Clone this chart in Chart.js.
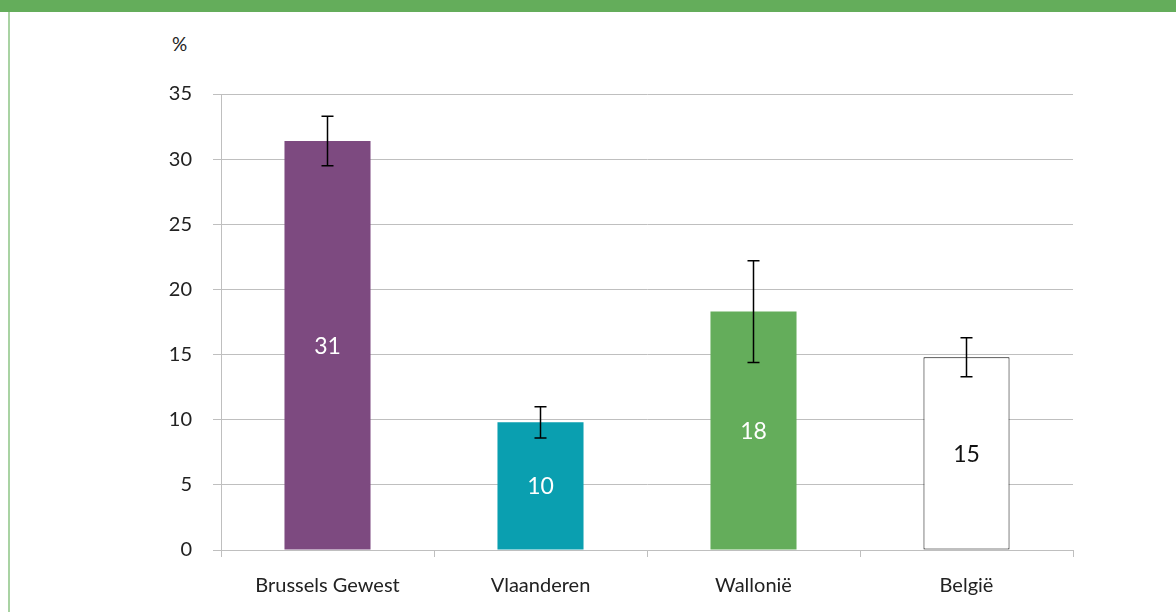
<!DOCTYPE html>
<html>
<head>
<meta charset="utf-8">
<script src="https://cdn.jsdelivr.net/npm/chart.js@4/dist/chart.umd.min.js"></script>
<style>
  html, body { margin: 0; padding: 0; background: #fff; }
  body { width: 1176px; height: 612px; position: relative; overflow: hidden; font-family: Lato, sans-serif; }
  .band { position: absolute; left: 0; top: 0; width: 1176px; height: 12px; background: #64ad5b; }
  .side { position: absolute; left: 8px; top: 12px; width: 2px; height: 600px; background: #a9d3a3; }
  .unit { position: absolute; left: 172px; top: 32px; font-size: 19px; color: #222; }
  #wrap { position: absolute; left: 0; top: 12px; width: 1176px; height: 600px; }
</style>
</head>
<body>
<div class="band"></div>
<div class="side"></div>
<div class="unit">%</div>
<div id="wrap"><canvas id="chart"></canvas></div>
<script>
// categories and values
const categories = ['Brussels Gewest', 'Vlaanderen', 'Wallonië', 'België'];
const values = [31.4, 9.8, 18.3, 14.8];
const errLow = [29.5, 8.6, 14.4, 13.3];
const errHigh = [33.3, 11.0, 22.2, 16.3];
const barLabels = ['31', '10', '18', '15'];
const barColors = ['#7d4a80', '#0a9fb0', '#64ad5b', '#ffffff'];
const borderColors = ['#7d4a80', '#0a9fb0', '#64ad5b', '#000000'];
const labelColors = ['#ffffff', '#ffffff', '#ffffff', '#111111'];

const FONT = 'Lato, sans-serif';
const GRID = '#bfbfbf';

// whiskers drawn from the y scale
const errorBars = {
  id: 'errorBars',
  afterDatasetsDraw(chart) {
    const ctx = chart.ctx;
    const y = chart.scales.y;
    const meta = chart.getDatasetMeta(0);
    ctx.save();
    ctx.strokeStyle = '#000';
    ctx.lineWidth = 1.5;
    meta.data.forEach((bar, i) => {
      const x = bar.x;
      const yl = y.getPixelForValue(errLow[i]);
      const yh = y.getPixelForValue(errHigh[i]);
      ctx.beginPath();
      ctx.moveTo(x, yl); ctx.lineTo(x, yh);
      ctx.moveTo(x - 6, yl); ctx.lineTo(x + 6, yl);
      ctx.moveTo(x - 6, yh); ctx.lineTo(x + 6, yh);
      ctx.stroke();
    });
    ctx.restore();
  }
};

// value labels in the middle of each bar
const barValueLabels = {
  id: 'barValueLabels',
  afterDatasetsDraw(chart) {
    const ctx = chart.ctx;
    const meta = chart.getDatasetMeta(0);
    ctx.save();
    ctx.font = '23px ' + FONT;
    ctx.textAlign = 'center';
    ctx.textBaseline = 'middle';
    meta.data.forEach((bar, i) => {
      ctx.fillStyle = labelColors[i];
      ctx.fillText(barLabels[i], bar.x, (bar.y + bar.base) / 2 + 1);
    });
    ctx.restore();
  }
};

new Chart(document.getElementById('chart'), {
  type: 'bar',
  data: {
    labels: categories,
    datasets: [{
      data: values,
      backgroundColor: barColors,
      borderColor: borderColors,
      borderWidth: values.map((v, i) => i === 3 ? 1 : 0),
      borderSkipped: false,
      categoryPercentage: 1,
      barPercentage: 0.404
    }]
  },
  options: {
    responsive: true,
    maintainAspectRatio: false,
    animation: false,
    layout: { padding: { top: 82, right: 103, left: 0, bottom: 0 } },
    plugins: { legend: { display: false }, tooltip: { enabled: false } },
    scales: {
      x: {
        afterFit(s) { s.height = 62; },
        grid: { drawOnChartArea: false, drawTicks: true, tickLength: 7, color: GRID, tickColor: GRID },
        border: { color: GRID },
        ticks: { color: '#222', font: { family: FONT, size: 20 }, padding: 17 }
      },
      y: {
        min: 0, max: 35,
        afterFit(s) { s.width = 221; },
        grid: { color: GRID, tickLength: 8, tickColor: GRID },
        border: { color: GRID },
        ticks: { stepSize: 5, color: '#222', font: { family: FONT, size: 20 }, padding: 21 }
      }
    }
  },
  plugins: [errorBars, barValueLabels]
});
</script>
</body>
</html>
